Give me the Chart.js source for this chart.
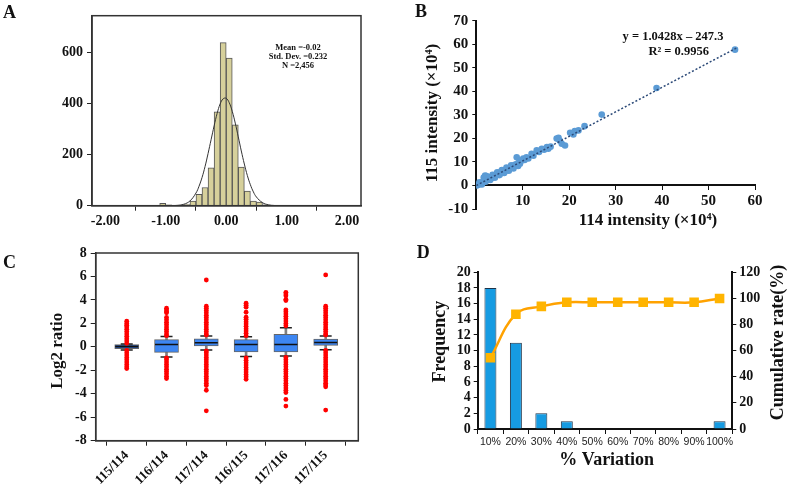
<!DOCTYPE html>
<html>
<head>
<meta charset="utf-8">
<script src="https://cdn.jsdelivr.net/npm/chart.js@4.4.0/dist/chart.umd.min.js"></script>
<style>
  body { margin: 0; background: #fff; width: 787px; height: 486px; position: relative; overflow: hidden; }
  canvas { position: absolute; }
</style>
</head>
<body>
<canvas id="cA" width="390" height="240" style="left:0;top:0"></canvas>
<canvas id="cB" width="387" height="240" style="left:400px;top:0"></canvas>
<canvas id="cC" width="390" height="246" style="left:0;top:240px"></canvas>
<canvas id="cD" width="387" height="246" style="left:400px;top:240px"></canvas>
<script>
// ---- A: histogram of log ratios ----
const binMid   = [-1.05, -0.95, -0.65, -0.55, -0.45, -0.35, -0.25, -0.15, -0.05, 0.05, 0.15, 0.25, 0.35, 0.45, 0.55, 0.65];
const binCount = [9, 3, 4, 18, 44, 71, 148, 367, 638, 577, 316, 151, 57, 18, 14, 3];
const curveX = [-0.9, -0.8, -0.7, -0.6, -0.5, -0.45, -0.4, -0.35, -0.3, -0.25, -0.2, -0.15, -0.1, -0.05, 0, 0.05, 0.1, 0.15, 0.2, 0.25, 0.3, 0.35, 0.4, 0.45, 0.5, 0.6, 0.7, 0.8, 0.9];
const curveY = [0.3, 1.5, 5.7, 18.5, 49.6, 75.8, 110, 153, 204, 258, 312, 361, 398, 418, 420, 403, 369, 323, 269, 214, 163, 118, 82, 54, 34, 12, 3.4, 0.8, 0.2];
const xTicksA = [-2, -1, 0, 1, 2];
const yTicksA = [0, 200, 400, 600];

// ---- B: 115 vs 114 intensity ----
const ptsX = [0.1, 0.3, 0.5, 0.7, 0.9, 1.1, 1.3, 1.5, 1.7, 1.9, 2.1, 2.3, 2.5, 2.7, 2.9, 3.1, 3.3, 3.5, 3.7, 3.9, 4.1, 4.3, 4.5, 4.7, 4.9, 5.1, 5.3, 5.5, 5.7, 5.9, 6.1, 6.3, 6.5, 6.7, 6.9, 7.1, 7.3, 7.5, 7.7, 7.9, 8.1, 8.3, 8.5, 8.7, 8.9, 9.1, 9.4, 9.7, 10.1, 10.4, 10.8, 11.2, 11.9, 12.3, 13.0, 13.5, 14.1, 14.6, 15.2, 15.5, 16.0, 17.3, 17.7, 18.0, 18.4, 19.1, 20.2, 20.9, 21.2, 22.0, 23.3, 27.0, 38.8, 55.7,
              0.6, 1.2, 2.0, 3.0, 4.0, 5.0, 6.0, 7.0, 8.0, 9.0, 2.5, 3.5, 4.5, 5.5, 6.5, 7.5, 1.6, 2.2];
const ptsY = [0.0, 0.2, 0.6, 0.5, 1.0, 1.0, 1.5, 1.4, 2.0, 4.2, 3.8, 2.4, 2.8, 2.5, 3.2, 3.0, 3.6, 3.4, 4.0, 3.8, 4.5, 4.2, 4.9, 4.6, 5.3, 5.0, 5.7, 5.4, 6.1, 5.8, 6.5, 6.2, 6.9, 6.6, 7.3, 7.0, 7.6, 7.4, 8.1, 7.8, 8.6, 8.3, 9.0, 12.0, 8.4, 9.6, 9.2, 10.5, 11.4, 10.8, 12.0, 11.5, 13.5, 12.6, 14.9, 14.2, 15.6, 15.2, 16.3, 15.6, 16.5, 19.9, 20.3, 19.0, 17.7, 17.0, 22.4, 21.7, 23.1, 23.4, 25.2, 30.1, 41.4, 57.7,
              1.3, 0.4, 1.6, 2.3, 3.3, 4.4, 5.3, 6.3, 7.2, 8.3, 3.6, 4.5, 5.6, 6.6, 7.6, 8.6, 3.4, 4.0];
const trendX = [0, 56.2];
const trendY = [-0.02, 58.6];
const xTicksB = [10, 20, 30, 40, 50, 60];
const yTicksB = [-10, 0, 10, 20, 30, 40, 50, 60, 70];

// ---- C: log2 ratio box plots ----
const ratios = ['115/114', '116/114', '117/114', '116/115', '117/116', '117/115'];
const q1  = [-0.15, -0.47, 0.07, -0.44, -0.44, 0.13];
const q3  = [0.19, 0.61, 0.69, 0.61, 1.06, 0.66];
const med = [0.02, 0.19, 0.36, 0.19, 0.19, 0.38];
const wLo = [-0.27, -0.87, -0.27, -0.83, -0.78, -0.24];
const wHi = [0.25, 0.89, 0.92, 0.86, 1.63, 0.92];
const out115_114 = [2.19, 2.0, 1.85, 1.7, 1.5, 1.3, 1.1, 0.9, 0.7, 0.5, 0.3, -0.3, -0.5, -0.7, -0.9, -1.1, -1.3, -1.5, -1.7, -1.85];
const out116_114 = [3.3, 3.15, 3.0, 2.9, 2.5, 2.3, 2.1, 1.9, 1.7, 1.5, 1.3, 1.1, 0.95, -0.95, -1.1, -1.3, -1.5, -1.7, -1.9, -2.1, -2.3, -2.5, -2.7];
const out117_114 = [5.7, 3.46, 3.3, 3.1, 2.9, 2.7, 2.5, 2.3, 2.1, 1.9, 1.7, 1.5, 1.3, 1.1, 1.0, -0.35, -0.5, -0.7, -0.9, -1.1, -1.3, -1.5, -1.7, -1.9, -2.1, -2.3, -2.5, -2.7, -2.9, -3.1, -3.3, -3.7, -5.45];
const out116_115 = [3.72, 3.55, 3.38, 2.95, 2.53, 2.35, 2.15, 1.95, 1.75, 1.55, 1.35, 1.15, 0.95, -0.95, -1.15, -1.35, -1.55, -1.75, -1.95, -2.15, -2.35, -2.55, -2.76];
const out117_116 = [4.65, 4.5, 4.35, 4.05, 3.95, 3.16, 3.0, 2.8, 2.6, 2.4, 2.2, 2.0, 1.8, -0.9, -1.1, -1.3, -1.5, -1.7, -1.9, -2.1, -2.3, -2.5, -2.7, -2.9, -3.1, -3.3, -3.5, -3.7, -3.89, -4.48, -5.05];
const out117_115 = [6.13, 3.46, 3.3, 3.1, 2.9, 2.7, 2.5, 2.3, 2.1, 1.9, 1.7, 1.5, 1.3, 1.1, 1.0, -0.3, -0.5, -0.7, -0.9, -1.1, -1.3, -1.5, -1.7, -1.9, -2.1, -2.3, -2.5, -2.7, -2.9, -3.1, -3.25, -3.41, -5.39];
const outliers = [out115_114, out116_114, out117_114, out116_115, out117_116, out117_115];
const yTicksC = [-8, -6, -4, -2, 0, 2, 4, 6, 8];

// ---- D: % variation ----
const pctLabels = ['10%', '20%', '30%', '40%', '50%', '60%', '70%', '80%', '90%', '100%'];
const freq = [18, 11, 2, 1, 0, 0, 0, 0, 0, 1];
const cumRate = [54.5, 87.9, 93.9, 97, 97, 97, 97, 97, 97, 100];
const yTicksD = [0, 2, 4, 6, 8, 10, 12, 14, 16, 18, 20];
const y2TicksD = [0, 20, 40, 60, 80, 100, 120];

Chart.defaults.font.family = "'Liberation Serif', 'Times New Roman', serif";
Chart.defaults.font.weight = 'bold';
Chart.defaults.font.size = 14;
Chart.defaults.color = '#111';
Chart.defaults.animation = false;
Chart.defaults.plugins.legend.display = false;
Chart.defaults.plugins.tooltip.enabled = false;

const serif = "'Liberation Serif', 'Times New Roman', serif";

// text drawn on top of a chart
function texts(items) {
  return {
    id: 'texts',
    afterDraw(chart) {
      const c = chart.ctx;
      items.forEach(it => {
        c.save();
        c.font = it.font;
        c.fillStyle = '#111';
        c.textAlign = it.align || 'center';
        c.textBaseline = it.base || 'middle';
        c.translate(it.x, it.y);
        if (it.rot) c.rotate(it.rot);
        c.fillText(it.t, 0, 0);
        c.restore();
      });
    }
  };
}

const frame = {
  id: 'frame',
  afterDraw(chart) {
    const a = chart.chartArea, c = chart.ctx;
    c.save();
    c.strokeStyle = '#333';
    c.lineWidth = 1.5;
    c.strokeRect(a.left, a.top, a.right - a.left, a.bottom - a.top);
    c.restore();
  }
};

const tickGrid = { drawOnChartArea: false, tickLength: 5, color: '#222' };
const setTicks = arr => s => { s.ticks = arr.map(v => ({ value: v })); };

// A
new Chart(document.getElementById('cA'), {
  type: 'bar',
  data: {
    datasets: [
      { type: 'line', data: curveX.map((x, i) => ({ x, y: curveY[i] })), borderColor: '#333', borderWidth: 1, pointRadius: 0, tension: 0.4 },
      { data: binMid.map((x, i) => ({ x, y: binCount[i] })), backgroundColor: '#d6d09b', borderColor: '#555', borderWidth: 1, barPercentage: 1, categoryPercentage: 1 }
    ]
  },
  options: {
    responsive: false,
    layout: { padding: { top: 15.7, right: 29, left: 0, bottom: 0 } },
    scales: {
      x: {
        type: 'linear', offset: false, min: -2.22, max: 2.23,
        afterBuildTicks: setTicks(xTicksA),
        afterFit: s => { s.height = 34.3; },
        ticks: { callback: v => v.toFixed(2), maxRotation: 0, padding: 2 },
        grid: tickGrid, border: { color: '#333', width: 1.5 }
      },
      y: {
        min: 0, max: 743,
        afterBuildTicks: setTicks(yTicksA),
        afterFit: s => { s.width = 92; },
        ticks: { padding: 4 },
        grid: tickGrid, border: { color: '#333', width: 1.5 }
      }
    }
  },
  plugins: [frame, texts([
    { t: 'A', x: 3, y: 18.3, align: 'left', base: 'alphabetic', font: `bold 18px ${serif}` },
    { t: 'Mean =-0.02', x: 298, y: 47.3, font: `bold 8.5px ${serif}` },
    { t: 'Std. Dev. =0.232', x: 298, y: 57, font: `bold 8.5px ${serif}` },
    { t: 'N =2,456', x: 298, y: 66, font: `bold 8.5px ${serif}` }
  ])]
});

// B
new Chart(document.getElementById('cB'), {
  type: 'scatter',
  data: {
    datasets: [
      { type: 'line', data: trendX.map((x, i) => ({ x, y: trendY[i] })), borderColor: '#2c4a78', borderWidth: 1.5, borderDash: [2, 2], pointRadius: 0, fill: false },
      { data: ptsX.map((x, i) => ({ x, y: ptsY[i] })), backgroundColor: '#5b9bd5', borderWidth: 0, pointRadius: 3.3 }
    ]
  },
  options: {
    responsive: false,
    layout: { padding: { top: 20.7, right: 32, left: 0, bottom: 31 } },
    scales: {
      x: {
        type: 'linear', position: { y: 0 }, min: 0, max: 60,
        afterBuildTicks: setTicks(xTicksB),
        ticks: { font: { size: 15 }, maxRotation: 0, padding: 3 },
        grid: { drawOnChartArea: false, tickLength: 4, color: '#111' },
        border: { color: '#111', width: 2 }
      },
      y: {
        min: -10, max: 70,
        afterBuildTicks: setTicks(yTicksB),
        afterFit: s => { s.width = 76.3; },
        ticks: { font: { size: 15 }, padding: 4 },
        grid: { drawOnChartArea: false, tickLength: 4, color: '#111' },
        border: { color: '#111', width: 2 }
      }
    }
  },
  plugins: [texts([
    { t: 'B', x: 15, y: 16.7, align: 'left', base: 'alphabetic', font: `bold 18px ${serif}` },
    { t: '115 intensity (\u00D710\u2074)', x: 33, y: 113, rot: -Math.PI / 2, font: `bold 17px ${serif}` },
    { t: '114 intensity (\u00D710\u2074)', x: 248, y: 221, font: `bold 17px ${serif}` },
    { t: 'y = 1.0428x \u2013 247.3', x: 273, y: 36.7, font: `bold 12.5px ${serif}` },
    { t: 'R\u00B2 = 0.9956', x: 278.7, y: 51.7, font: `bold 12.5px ${serif}` }
  ])]
});

// C
const boxColors = ratios.map((r, i) => i === 0 ? '#23509c' : '#3d86f2');
const outPts = [];
outliers.forEach((arr, i) => arr.forEach(v => outPts.push({ x: i + 1, y: v })));
new Chart(document.getElementById('cC'), {
  type: 'bar',
  data: {
    datasets: [
      { type: 'scatter', data: outPts, backgroundColor: '#ff0000', borderWidth: 0, pointRadius: 2.4 },
      { type: 'scatter', data: med.map((v, i) => ({ x: i + 1, y: v })), pointStyle: 'line', pointRadius: 11.5, borderColor: '#111', borderWidth: 1.5 },
      { type: 'scatter', data: wLo.map((v, i) => ({ x: i + 1, y: v })).concat(wHi.map((v, i) => ({ x: i + 1, y: v }))), pointStyle: 'line', pointRadius: 6, borderColor: '#222', borderWidth: 1.5 },
      { data: q1.map((v, i) => ({ x: i + 1, y: [v, q3[i]] })), backgroundColor: boxColors, borderColor: '#666', borderWidth: 1, borderSkipped: false, barThickness: 24, grouped: false },
      { data: wLo.map((v, i) => ({ x: i + 1, y: [v, wHi[i]] })), backgroundColor: '#808080', barThickness: 2, grouped: false }
    ]
  },
  options: {
    responsive: false,
    layout: { padding: { top: 12.3, right: 31.7, left: 0, bottom: 0 } },
    scales: {
      x: {
        type: 'linear', offset: false, min: 0.22, max: 6.82,
        afterBuildTicks: setTicks([1, 2, 3, 4, 5, 6]),
        afterFit: s => { s.height = 45.3; },
        ticks: { callback: v => ratios[v - 1], minRotation: 45, maxRotation: 45, font: { size: 13 }, padding: 2 },
        grid: tickGrid, border: { color: '#333', width: 1.5 }
      },
      y: {
        min: -8, max: 8,
        afterBuildTicks: setTicks(yTicksC),
        afterFit: s => { s.width = 95.7; },
        ticks: { padding: 4 },
        grid: tickGrid, border: { color: '#333', width: 1.5 }
      }
    }
  },
  plugins: [frame, texts([
    { t: 'C', x: 3, y: 28, align: 'left', base: 'alphabetic', font: `bold 18px ${serif}` },
    { t: 'Log2 ratio', x: 57.3, y: 110.8, rot: -Math.PI / 2, font: `bold 17px ${serif}` }
  ])]
});

// D
new Chart(document.getElementById('cD'), {
  type: 'bar',
  data: {
    labels: pctLabels,
    datasets: [
      { type: 'line', data: cumRate, yAxisID: 'y2', borderColor: '#ffa200', borderWidth: 2.5, tension: 0.4, pointStyle: 'rect', pointRadius: 5, pointBackgroundColor: '#ffb400', pointBorderColor: '#ffb400' },
      { data: freq, yAxisID: 'y', backgroundColor: '#169be2', borderColor: '#1d3349', borderWidth: 1, barPercentage: 0.47, categoryPercentage: 1 }
    ]
  },
  options: {
    responsive: false,
    layout: { padding: { top: 32.3, right: 0, left: 0, bottom: 0 } },
    scales: {
      x: {
        afterFit: s => { s.height = 57; },
        ticks: { font: { family: "'Liberation Sans', Arial, sans-serif", weight: 'normal', size: 10.5 }, color: '#222', maxRotation: 0, autoSkip: false, padding: 2 },
        grid: { offset: true, drawOnChartArea: false, tickLength: 5, color: '#111' },
        border: { color: '#111', width: 2 }
      },
      y: {
        min: 0, max: 20,
        afterBuildTicks: setTicks(yTicksD),
        ticks: { autoSkip: false, padding: 3 },
        afterFit: s => { s.width = 77.7; },
        grid: { drawOnChartArea: false, tickLength: 4, color: '#111' },
        border: { color: '#111', width: 2 }
      },
      y2: {
        position: 'right', min: 0, max: 120,
        afterBuildTicks: setTicks(y2TicksD),
        ticks: { autoSkip: false, padding: 3 },
        afterFit: s => { s.width = 54.7; },
        grid: { drawOnChartArea: false, tickLength: 4, color: '#111' },
        border: { color: '#111', width: 2 }
      }
    }
  },
  plugins: [texts([
    { t: 'D', x: 16.7, y: 18.3, align: 'left', base: 'alphabetic', font: `bold 18px ${serif}` },
    { t: 'Frequency', x: 40, y: 101.7, rot: -Math.PI / 2, font: `bold 18px ${serif}` },
    { t: 'Cumulative rate(%)', x: 378.3, y: 102.5, rot: -Math.PI / 2, font: `bold 18px ${serif}` },
    { t: '% Variation', x: 206.7, y: 220, font: `bold 18px ${serif}` }
  ])]
});
</script>
</body>
</html>
